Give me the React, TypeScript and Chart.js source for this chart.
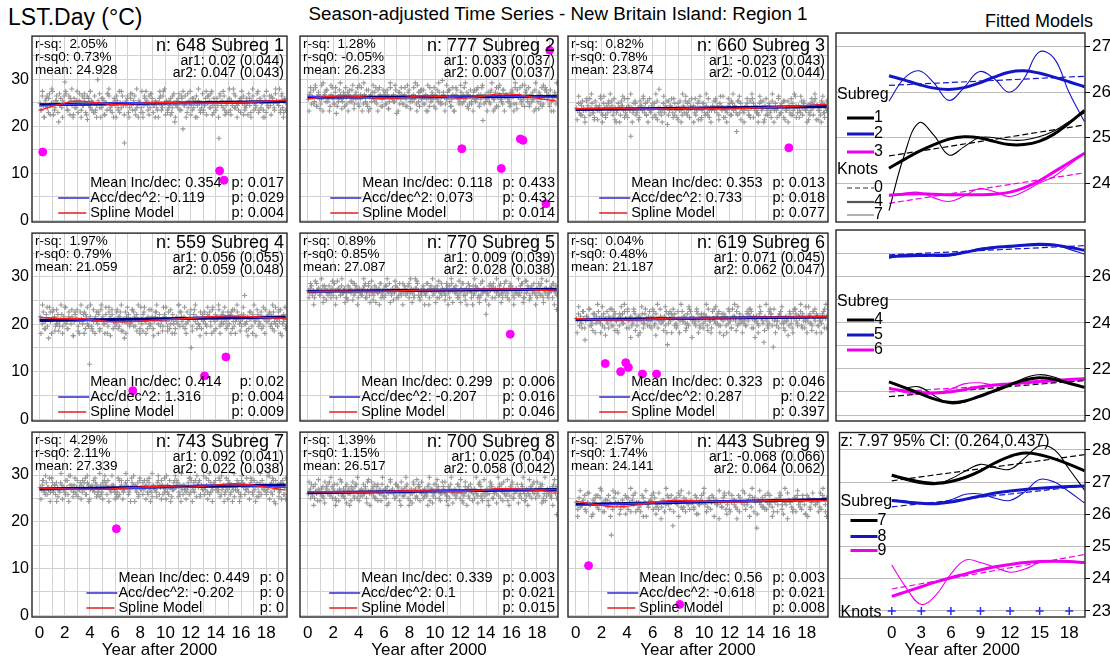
import React, { useEffect, useRef } from "react";
import { Chart, registerables } from "chart.js";

Chart.register(...registerables);

const FF = '"Liberation Sans", Arial, Helvetica, sans-serif';
const font = (size: number) => `${size}px ${FF}`;

/* ---------------- data ---------------- */
const SUBREG = ["1", "2", "3", "4", "5", "6", "7", "8", "9"];
const N_OBS = [648, 777, 660, 559, 770, 619, 743, 700, 443];
const MEANS = [24.928, 26.233, 23.874, 21.059, 27.087, 21.187, 27.339, 26.517, 24.141];
const R_SQ = ["2.05%", "1.28%", "0.82%", "1.97%", "0.89%", "0.04%", "4.29%", "1.39%", "2.57%"];
const R_SQ0 = ["0.73%", "-0.05%", "0.78%", "0.79%", "0.85%", "0.48%", "2.11%", "1.15%", "1.74%"];
const AR1 = ["0.02 (0.044)", "0.033 (0.037)", "-0.023 (0.043)", "0.056 (0.055)", "0.009 (0.039)", "0.071 (0.045)", "0.092 (0.041)", "0.025 (0.04)", "-0.068 (0.066)"];
const AR2 = ["0.047 (0.043)", "0.007 (0.037)", "-0.012 (0.044)", "0.059 (0.048)", "0.028 (0.038)", "0.062 (0.047)", "0.022 (0.038)", "0.058 (0.042)", "0.064 (0.062)"];
const MEAN_INC = ["0.354", "0.118", "0.353", "0.414", "0.299", "0.323", "0.449", "0.339", "0.56"];
const MEAN_INC_P = ["0.017", "0.433", "0.013", "0.02", "0.006", "0.046", "0", "0.003", "0.003"];
const ACC = ["-0.119", "0.073", "0.733", "1.316", "-0.207", "0.287", "-0.202", "0.1", "-0.618"];
const ACC_P = ["0.029", "0.432", "0.018", "0.004", "0.016", "0.22", "0", "0.021", "0.021"];
const SPLINE_P = ["0.004", "0.014", "0.077", "0.009", "0.046", "0.397", "0", "0.015", "0.008"];

// fitted curves, tabulated at these years
const FIT_YEARS = [0, 1.5, 3, 4.5, 6, 7.5, 9, 10.5, 12, 13.5, 15, 16.5, 18, 19.55];
const LIN_YEARS = [0, 19.55];

const K0_1 = [24.6, 25.28];
const K4_1 = [24.33, 24.52, 24.7, 24.85, 24.97, 25.02, 25.0, 24.92, 24.85, 24.85, 24.92, 25.08, 25.32, 25.6];
const K7_1 = [23.4, 24.6, 25.33, 25.05, 24.62, 24.8, 25.0, 25.0, 24.95, 24.95, 25.02, 25.15, 25.35, 25.55];
const K0_2 = [26.15, 26.35];
const K4_2 = [26.36, 26.27, 26.17, 26.09, 26.06, 26.1, 26.2, 26.33, 26.44, 26.47, 26.42, 26.33, 26.23, 26.12];
const K7_2 = [25.8, 26.3, 26.47, 26.2, 25.82, 26.1, 26.45, 26.3, 26.0, 26.3, 26.88, 26.75, 26.0, 25.35];
const K0_3 = [23.56, 24.23];
const K4_3 = [23.74, 23.76, 23.77, 23.76, 23.75, 23.75, 23.75, 23.76, 23.8, 23.9, 24.05, 24.25, 24.45, 24.66];
const K7_3 = [23.72, 23.78, 23.8, 23.68, 23.6, 23.72, 23.88, 23.82, 23.71, 23.82, 24.0, 24.15, 24.4, 24.66];
const K0_4 = [20.8, 21.5];
const K4_4 = [21.44, 21.2, 20.95, 20.7, 20.55, 20.6, 20.8, 21.05, 21.3, 21.52, 21.62, 21.55, 21.38, 21.2];
const K7_4 = [21.44, 21.2, 21.22, 20.85, 20.5, 20.55, 20.85, 21.0, 21.25, 21.6, 21.75, 21.65, 21.4, 21.2];
const K0_5 = [26.95, 27.35];
const K4_5 = [26.87, 26.9, 26.92, 26.93, 26.95, 27.05, 27.18, 27.27, 27.32, 27.37, 27.4, 27.38, 27.28, 27.15];
const K7_5 = [26.8, 26.95, 26.97, 26.9, 26.9, 27.05, 27.22, 27.3, 27.28, 27.38, 27.45, 27.4, 27.2, 26.98];
const K0_6 = [21.0, 21.5];
const K4_6 = [21.15, 21.05, 20.98, 20.95, 21.0, 21.1, 21.22, 21.3, 21.35, 21.4, 21.45, 21.5, 21.54, 21.57];
const K7_6 = [21.2, 20.98, 20.9, 20.95, 21.1, 21.35, 21.4, 21.3, 21.35, 21.45, 21.5, 21.5, 21.55, 21.58];
const K0_7 = [27.04, 27.85];
const K4_7 = [27.21, 27.1, 27.0, 26.96, 27.02, 27.15, 27.35, 27.6, 27.8, 27.9, 27.85, 27.72, 27.55, 27.35];
const K7_7 = [27.19, 27.05, 26.95, 26.93, 27.1, 27.35, 27.55, 27.45, 27.4, 27.75, 28.12, 28.0, 27.4, 26.75];
const K0_8 = [26.23, 26.88];
const K4_8 = [26.43, 26.38, 26.34, 26.33, 26.38, 26.47, 26.57, 26.66, 26.72, 26.77, 26.81, 26.84, 26.86, 26.88];
const K7_8 = [26.45, 26.4, 26.36, 26.35, 26.45, 26.62, 26.63, 26.5, 26.43, 26.7, 27.08, 27.0, 26.7, 26.35];
const K0_9 = [23.68, 24.75];
const K4_9 = [23.45, 23.6, 23.75, 23.9, 24.03, 24.15, 24.27, 24.37, 24.44, 24.5, 24.53, 24.54, 24.53, 24.5];
const K7_9 = [24.42, 23.7, 23.2, 23.5, 24.15, 24.58, 24.5, 24.35, 24.2, 24.3, 24.5, 24.55, 24.52, 24.5];

const K0 = [K0_1, K0_2, K0_3, K0_4, K0_5, K0_6, K0_7, K0_8, K0_9];
const K4 = [K4_1, K4_2, K4_3, K4_4, K4_5, K4_6, K4_7, K4_8, K4_9];
const K7 = [K7_1, K7_2, K7_3, K7_4, K7_5, K7_6, K7_7, K7_8, K7_9];

// observation anomalies around the subregion mean, coded in 0.5 degC steps ('n' = 0)
const CODE = "ABCDEFGHIJabcdefghijklmnopqrstuvwxyz";
const DEV_1 = "nkqmhopljr mnsikoqnfm plonwrmkqi omhpnlsjon kqmrnigpml onjqkmxnlh pmoinkrqlm jnpmhoksnl qmGnopjlrm knqilmonjs hmpnokqlrn jmonkhpqml snioklmpjq nfmolrnkpc mqnjlosmkp nhqmonjlrk mpinqolsmj nkpmIrnolq imnjpkomtl qnmkojpnim lpnrmjoqkn moskplnhqo jnlomqpnkr onmtkqljpn";
const DEV_1B = "kshmqpitnl ojrmhqsknp tilonrhmpj qmsknjhorl pinrtkmhoq ljsnimqhpr okthnljqsm irpmhlnskq tnjoilrhmp kqsmhrnipl ohtknjmsql riplnhqmsk jotimrlhnp sqkmiphtnl rjonkhsmqi pltnmjrhok";
const DEV_2 = "mopknqlrjn omkshnplqm njormkpgnl qomlnjrkpo lnqmiopnks mrnkolqjhn onpmlrkqno jmqnpkoilr nmolqgnpkm oknrmjpqln lomnkspjqm nqkomhnrlp mjonqlpknu onkmpqljmr hnoqmklpno rmnjokqlnp mlqnokmrdn onmplkqnhm pjnromlkqn nolmjpqnkr kqnomlsnjp omrknlpmqi nlpomjknrq mokqlnhpon";
const DEV_2B = "hrnksjpimt oqlhsnkrjm tiponhqlsk mrjohtnkqi lspmhrnjok qitnlsmhpr kojsnimrth lpqknhsjmo rimtlkphsn qjohrnmskl tpinkhqmrj osklhnptmi rjsmqhonlk phtinrkmsq ljomhtnikr sqpnjhmokt";
const DEV_3 = "nmplkoqnjm romknpliqn mnoslkpnjo lqnmokrnhm pnkqomjlnr ombnlpqkmn jonmrlpkqn mlopnkjqnv nkmplongqm onlrkmjpnq mkonqlpmjn rnolkmpqni mpnkolrjnm onmqlnkpom snjmlonkqp mondkqlpnm lnopmkqnrj nomlkpqmnh okmnpljqnm pmnrkolnjq mnqolkpmns jnomlqkpnm nolkmpnqri omnkqpljnm";
const DEV_3B = "ispkmhqnrt ljoimrhskn ptqmilnhos rkjnthmpli qosnkhrmjp tilmhsnqko rjpnimhtls kqonhrmisj pltkmhnqro isnjmhrpkt olqsimhnrk jtpmlhsnqi rkomthnjsl pqimhnrkto ljsnqmhipr ktoimhslnq";
const DEV_4 = "onlqjmpkns mhqnokrlim npkoslmjqn logmpnrkhq nmpqjolkEt kimnoqlpjr nolhsmkqon pjnmlrokqi mnfqolpknm rkoninmjsl pqmhnolkrn jmoqnlpkmi sonmkqjlnp mhnoltkqmn ojlqmnpbkn rmonlkqjpm nlkpoqmhsn mjonrklpqn omknlpqjmr hnqolmknpx lmojnqkpnm gnpmlqoknr mopnkljqms nkqmrolpnj";
const DEV_4B = "htmjsfqnri lpkthmsjon rgqnimtlhp skojrhmqit nlphsgrmkq jotimhsnlr qkpthnismj rlogqthnmk psinrhljmt qokshmnrip tjlgnmqhso kripnthmls jqohrkmtni psligqnhtm rkojshnmqp tilnrhgmsk";
const DEV_5 = "nmoplnkmqn olmnpkonml pnmolqnkro nlpmnokmjn omnqlmpnko mlnopkmnql nomlpinmoq kmnolpnmqn lonmpkolnm nqmolnpkmo mnlsoqnkml onmlqnhopn lmonpnkmqo nmlopmknqi ompnlkmonq nlomqpnkhl mpnolkqnmo ndmlpnokqn omnlpqmkon lnmoqpnlkm onlmpnqkmr mnolkpnqml onmpqlknmo lmnopkqnmf";
const DEV_5B = "kqmhrnolsi pjnmkrqhno lsmikpnrjq ohnmlsqkpi rjnomhqlkp snimjrokql hpnmqsikor ljnphmqkns oikrmlnjqh psnomkriql jhqnmpsoki lrnjmhqpok snlimqrkjp ohnmslqikr pjomnhkqls iorkmnqhpl";
const DEV_6 = "nmpkolqnjm onrkmlpnho mqnlokpjnm lonmrkqpmi nkomplqnjr mnoklqpnmg onmpjlrnko kmnoqlpnjm rlnmokqcpn mhonplkqnm nqmoljpkrn omnlkqpmjo nlpmokrnmj qnmlopkhnn mpoknlqmjr nomqklpnmo lnkpmroqnj mnolkpqnmd onmjlrpkbm nkmopqlnjm omnkpljqnr mlonqkpmjs nmoplkqnmh oknmlpqrnj";
const DEV_6B = "hsmjqeonrk ipltmhsngq jrkoimhpsl tnqjfmriko hslpnmqjrk gtnomishlq prkjnhtmoi lsqfnmrhkp jotimhnrsl qkpgnhrmjo tisnlhmkqp rjofmhsnli tkqpnrhmjo slimgqnhrp kotjnmhsli qrpkmhnjto";
const DEV_7 = "nmoqlkpnmr lnpmokhnml ponmlqnkso mnjolkqmnp olnmrkpoim nmqlpokmjo lpnsokqnml onmikljqno mlnpoqkmnr nohmlpkqmn pmnoqkrmlj onmlpqknio nlmsokqnjm mqnoplkhmo onlmpkrqnm lnjopqknms nmolqkpnmo omnlrqkmnh lnmqpkonmj nomlhkqpno mrnlopqknm ojnlpkqmno lmnsopkqmg nomlpiqknr";
const DEV_7B = "iqmsknhrlo pjmtinkqhs olrnjmiqpk shnomrjltk iqpnhmsolj rkqimtnlhp sonjrmkqil phtnmjsoqk rilnhmpsqj otkminrlhp qsnjomkrit lhpqnmjsok rinlhtmqpj sokmnirlqh pjtnomksil rhqnjmpoki";
const DEV_8 = "mnoqlpknmj onmlpkrnoq nlmpoqkjnm onrmlkpqno mjnolpqkmn lonqmpkrnm nmolqkpjno mqnlokpmnr nomkqlpnmh onlmpqknjo mrnolkqpnm nkomlpqjno lmnqopkmnr onmjlpkqnm nolmqpknmi mpnolkqnjm onmlqrpkmn lnojmpqknm nmolpkqnrm omjnlpqkmn nqolmkpnmj onmlpkqrno mnlopqkmjn omnlkpqnmd";
const DEV_8B = "rkmhqnsjol ipmrtknhqj slonimhprk qtjnlmoish rpknqmjtlo hisnmkqpjr lotnhmiqks pjrnlmhtoi qksnjmprlh otimkqnsjl rhpnomktiq ljsnmhrpko itqnjmlshp rkonimqtjl hspnmkroqi jtlnomhspk";
const DEV_9 = "nkplmoqjnr mhonqlkpsn jmoqnJkprm nimolqpknj omrnkljqpn hmnoqkplmr nlojmqpknd onmrqlkpjn mkonlqpimo nrmjlokqpn omgnlpqkmr jnomlkqpns mknoqlpjnc onmplqkrmn ljnompqkin mronlkpjqm nkomiqplnr omnjlkqpmh";
const DEV_9B = "hsnkrmipqt jolhsnrkmi ptqjnmhslo rikgntmqjp hslornkimq tjpnhmslri kqogjnrmht pislknqhoj rmtgnjpslq ihkomnrtjp";
const DEVS = [DEV_1, DEV_2, DEV_3, DEV_4, DEV_5, DEV_6, DEV_7, DEV_8, DEV_9];
const DEVS_B = [DEV_1B, DEV_2B, DEV_3B, DEV_4B, DEV_5B, DEV_6B, DEV_7B, DEV_8B, DEV_9B];
const OBS_START = 0.05;
const OBS_END = 19.55;

// highlighted (magenta) observations
const OUT_X_1 = [0.25, 14.3, 14.65];
const OUT_Y_1 = [14.5, 10.5, 8.5];
const OUT_X_2 = [12.1, 15.2, 16.7, 16.9, 18.7, 19.0];
const OUT_Y_2 = [15.2, 11.0, 17.3, 17.0, 3.5, 36.2];
const OUT_X_3 = [16.6];
const OUT_Y_3 = [15.4];
const OUT_X_4 = [7.4, 13.1, 14.8];
const OUT_Y_4 = [6.0, 9.1, 13.1];
const OUT_X_5 = [15.9];
const OUT_Y_5 = [17.9];
const OUT_X_6 = [2.3, 3.5, 3.9, 4.1, 5.2, 6.3];
const OUT_Y_6 = [11.7, 10.0, 11.9, 10.9, 9.5, 9.5];
const OUT_X_7 = [6.1];
const OUT_Y_7 = [18.5];
const OUT_X_8: number[] = [];
const OUT_Y_8: number[] = [];
const OUT_X_9 = [1.0, 8.1];
const OUT_Y_9 = [10.6, 2.3];
const OUT_X = [OUT_X_1, OUT_X_2, OUT_X_3, OUT_X_4, OUT_X_5, OUT_X_6, OUT_X_7, OUT_X_8, OUT_X_9];
const OUT_Y = [OUT_Y_1, OUT_Y_2, OUT_Y_3, OUT_Y_4, OUT_Y_5, OUT_Y_6, OUT_Y_7, OUT_Y_8, OUT_Y_9];

// axes
const X_GRID = [0, 1, 2, 3, 4, 5, 6, 7, 8, 9, 10, 11, 12, 13, 14, 15, 16, 17, 18, 19];
const X_LABELS = [0, 2, 4, 6, 8, 10, 12, 14, 16, 18];
const Y_GRID = [0, 5, 10, 15, 20, 25, 30, 35];
const Y_LABELS = [0, 10, 20, 30];

// fitted-model panels
const FIT_GROUPS = [[0, 1, 2], [3, 4, 5], [6, 7, 8]];
const FIT_Y_MIN = [23.15, 19.74, 22.81];
const FIT_Y_MAX = [27.3, 28.03, 28.54];
const FIT_Y_GRID = [[24, 25, 26, 27], [20, 21, 22, 23, 24, 25, 26, 27], [23, 24, 25, 26, 27, 28]];
const FIT_Y_LABELS = [[24, 25, 26, 27], [20, 22, 24, 26], [23, 24, 25, 26, 27, 28]];
const FIT_X_LABELS = [0, 3, 6, 9, 12, 15, 18];
const KNOT_YEARS = [0, 3, 6, 9, 12, 15, 18];
const KNOT_LEVEL = 23;
const KNOT_NAMES = ["0", "4", "7"];
const CI_TEXT = "z: 7.97 95% CI: (0.264,0.437)";

/* ---------------- layout / style ---------------- */
const SUB_COLORS = ["#000000", "#1515c8", "#ee00ee"];
const COL_L = [32, 300, 568];
const COL_R = [287, 558, 828];
const ROW_T = [33, 230, 429];
const ROW_B = [222, 421, 617];
const RIGHT_L = 836;
const RIGHT_R = 1085;
const X_MIN = -0.6;
const X_MAX = 19.65;
const Y_MIN = -0.4;
const Y_MAX = 39.2;
const FX_MIN = -5.3;
const FX_MAX = 19.6;

const decode = (s: string) =>
  s.replace(/\s+/g, "").split("").map((c) => (CODE.indexOf(c) - 23) * 0.5);

// evenly sampled observation times for a coded series (offset = fraction of a step)
const toObs = (s: string, mean: number, offset: number) => {
  const devs = decode(s);
  const n = devs.length;
  const step = (OBS_END - OBS_START) / (n - 1);
  return devs.map((d, k) => ({ x: Math.min(OBS_END, OBS_START + step * (k + offset)), y: mean + d }));
};

const boxPlugin = {
  id: "boxFrame",
  afterDraw(chart: any) {
    const { ctx, chartArea: a } = chart;
    ctx.save();
    ctx.strokeStyle = "#262626";
    ctx.lineWidth = 1.4;
    ctx.strokeRect(a.left, a.top, a.right - a.left, a.bottom - a.top);
    ctx.restore();
  },
};

function scatterAnnotations(i: number) {
  return {
    id: "ann" + i,
    afterDatasetsDraw(chart: any) {
      const { ctx, chartArea: a } = chart;
      ctx.save();
      ctx.fillStyle = "#000";
      ctx.textBaseline = "middle";
      ctx.textAlign = "left";
      ctx.font = font(13.5);
      ctx.fillText("r-sq:  " + R_SQ[i], a.left + 3, a.top + 8);
      ctx.fillText("r-sq0: " + R_SQ0[i], a.left + 3, a.top + 21);
      ctx.fillText("mean: " + MEANS[i].toFixed(3), a.left + 3, a.top + 34);
      ctx.textAlign = "right";
      ctx.font = font(18);
      ctx.fillText(`n: ${N_OBS[i]} Subreg ${SUBREG[i]}`, a.right - 3, a.top + 10);
      ctx.font = font(14);
      ctx.fillText("ar1: " + AR1[i], a.right - 3, a.top + 25);
      ctx.fillText("ar2: " + AR2[i], a.right - 3, a.top + 37);

      ctx.font = font(14.5);
      const rows = [`Mean Inc/dec: ${MEAN_INC[i]}`, `Acc/dec^2: ${ACC[i]}`, "Spline Model"];
      const ps = [`p: ${MEAN_INC_P[i]}`, `p: ${ACC_P[i]}`, `p: ${SPLINE_P[i]}`];
      const w = Math.max(...rows.map((t) => ctx.measureText(t).width));
      const pw = Math.max(...ps.map((t) => ctx.measureText(t).width));
      const xp = a.right - 3;
      const xt = xp - pw - 10 - w;
      const ys = [a.bottom - 39, a.bottom - 24, a.bottom - 9];
      rows.forEach((t, k) => {
        ctx.textAlign = "left";
        ctx.fillText(t, xt, ys[k]);
        ctx.textAlign = "right";
        ctx.fillText(ps[k], xp, ys[k]);
      });
      ctx.lineWidth = 1.5;
      ctx.strokeStyle = "#2a2ad0";
      ctx.beginPath();
      ctx.moveTo(xt - 32, ys[1]);
      ctx.lineTo(xt - 1, ys[1]);
      ctx.stroke();
      ctx.strokeStyle = "#e02020";
      ctx.beginPath();
      ctx.moveTo(xt - 32, ys[2]);
      ctx.lineTo(xt - 4, ys[2]);
      ctx.stroke();
      ctx.restore();
    },
  };
}

function scatterConfig(i: number, ML: number, MB: number) {
  const col = i % 3;
  const row = Math.floor(i / 3);
  const obs = [...toObs(DEVS[i], MEANS[i], 0), ...toObs(DEVS_B[i], MEANS[i], 0.5)];
  const line = (xs: number[], ys: number[]) => xs.map((x, k) => ({ x, y: ys[k] }));
  return {
    type: "scatter",
    data: {
      datasets: [
        {
          type: "scatter",
          data: obs,
          pointStyle: "cross",
          pointRadius: 2.5,
          borderColor: "#979797",
          borderWidth: 1.1,
          order: 5,
        },
        {
          type: "line",
          data: line(LIN_YEARS, K0[i]),
          borderColor: "#000080",
          borderWidth: 3,
          pointRadius: 0,
          order: 4,
        },
        {
          type: "line",
          data: line(FIT_YEARS, K4[i]),
          borderColor: "#3b3bff",
          borderWidth: 1.4,
          pointRadius: 0,
          tension: 0.4,
          order: 3,
        },
        {
          type: "line",
          data: line(FIT_YEARS, K7[i]),
          borderColor: "#ff1a1a",
          borderWidth: 1.3,
          pointRadius: 0,
          tension: 0.4,
          order: 2,
        },
        {
          type: "scatter",
          data: line(OUT_X[i], OUT_Y[i]),
          pointStyle: "circle",
          pointRadius: 4,
          backgroundColor: "#ff00ff",
          borderColor: "#ff00ff",
          order: 1,
        },
      ],
    },
    options: {
      responsive: false,
      animation: false,
      events: [],
      layout: { padding: { left: 0, top: 2, right: 10, bottom: 0 } },
      plugins: { legend: { display: false }, tooltip: { enabled: false } },
      scales: {
        x: {
          type: "linear",
          min: X_MIN,
          max: X_MAX,
          afterBuildTicks: (s: any) => {
            s.ticks = X_GRID.map((v) => ({ value: v }));
          },
          afterFit: (s: any) => {
            s.height = MB;
            s.paddingLeft = 0;
            s.paddingRight = 0;
          },
          grid: { color: "#d2d2d2", lineWidth: 1, drawTicks: false },
          border: { display: false },
          ticks: {
            display: row === 2,
            autoSkip: false,
            maxRotation: 0,
            padding: 6,
            color: "#000",
            font: { family: FF, size: 17 },
            callback: (v: number) => (X_LABELS.includes(v) ? String(v) : ""),
          },
          title: {
            display: row === 2,
            text: "Year after 2000",
            color: "#000",
            font: { family: FF, size: 17, lineHeight: 1 },
            padding: { top: 0, bottom: 0 },
          },
        },
        y: {
          type: "linear",
          min: Y_MIN,
          max: Y_MAX,
          afterBuildTicks: (s: any) => {
            s.ticks = Y_GRID.map((v) => ({ value: v }));
          },
          afterFit: (s: any) => {
            s.width = ML;
            s.paddingTop = 0;
            s.paddingBottom = 0;
          },
          grid: { color: "#d2d2d2", lineWidth: 1, drawTicks: false },
          border: { display: false },
          ticks: {
            display: col === 0,
            padding: 3,
            color: "#000",
            font: { family: FF, size: 16 },
            callback: (v: number) => (Y_LABELS.includes(v) ? String(v) : ""),
          },
        },
      },
    },
    plugins: [scatterAnnotations(i), boxPlugin],
  };
}

function fittedLegend(g: number) {
  return {
    id: "fleg" + g,
    afterDatasetsDraw(chart: any) {
      const { ctx, chartArea: a } = chart;
      const L = a.left;
      const T = a.top;
      ctx.save();
      ctx.fillStyle = "#000";
      ctx.textBaseline = "middle";
      ctx.textAlign = "left";
      ctx.font = font(16);
      const subY = [62, 72, 69][g];
      const rowY = [[85, 101, 119], [90, 105, 120], [88, 104, 118]][g];
      ctx.fillText("Subreg", L + 1, T + subY);
      FIT_GROUPS[g].forEach((s, j) => {
        const y = T + rowY[j];
        ctx.strokeStyle = SUB_COLORS[j];
        ctx.lineWidth = 3;
        ctx.beginPath();
        ctx.moveTo(L + 11, y);
        ctx.lineTo(L + 38, y);
        ctx.stroke();
        ctx.fillText(SUBREG[s], L + 38, y);
      });
      if (g === 0) {
        ctx.fillText("Knots", L + 1, T + 137);
        const ky = [155, 169, 182];
        const widths = [1.2, 2.2, 1];
        const colors = ["#333", "#555", "#666"];
        KNOT_NAMES.forEach((k, j) => {
          const y = T + ky[j];
          ctx.strokeStyle = colors[j];
          ctx.lineWidth = widths[j];
          ctx.setLineDash(j === 0 ? [5, 3] : []);
          ctx.beginPath();
          ctx.moveTo(L + 11, y);
          ctx.lineTo(L + 38, y);
          ctx.stroke();
          ctx.setLineDash([]);
          ctx.fillText(k, L + 38, y);
        });
      }
      if (g === 2) {
        ctx.fillText(CI_TEXT, L + 1, T + 9);
        ctx.fillText("Knots", L + 1, T + 180);
      }
      ctx.restore();
    },
  };
}

function fittedConfig(g: number, MB: number) {
  const datasets: any[] = [];
  FIT_GROUPS[g].forEach((s, j) => {
    const col = SUB_COLORS[j];
    datasets.push({
      type: "line",
      data: LIN_YEARS.map((x, k) => ({ x, y: K0[s][k] })),
      borderColor: col,
      borderWidth: 1.2,
      borderDash: [6, 3],
      pointRadius: 0,
      order: 3,
    });
    datasets.push({
      type: "line",
      data: FIT_YEARS.map((x, k) => ({ x, y: K7[s][k] })),
      borderColor: col,
      borderWidth: 1.1,
      pointRadius: 0,
      tension: 0.4,
      order: 2,
    });
    datasets.push({
      type: "line",
      data: FIT_YEARS.map((x, k) => ({ x, y: K4[s][k] })),
      borderColor: col,
      borderWidth: 3,
      pointRadius: 0,
      tension: 0.4,
      order: 1,
    });
  });
  if (g === 2) {
    datasets.push({
      type: "scatter",
      data: KNOT_YEARS.map((x) => ({ x, y: KNOT_LEVEL })),
      pointStyle: "cross",
      pointRadius: 4,
      borderColor: "#2a2aff",
      borderWidth: 1.5,
      order: 0,
    });
  }
  const labels = FIT_Y_LABELS[g];
  return {
    type: "scatter",
    data: { datasets },
    options: {
      responsive: false,
      animation: false,
      events: [],
      layout: { padding: { left: 2, top: 2, right: 0, bottom: 0 } },
      plugins: { legend: { display: false }, tooltip: { enabled: false } },
      scales: {
        x: {
          type: "linear",
          min: FX_MIN,
          max: FX_MAX,
          afterBuildTicks: (s: any) => {
            s.ticks = FIT_X_LABELS.map((v) => ({ value: v }));
          },
          afterFit: (s: any) => {
            s.height = MB;
            s.paddingLeft = 0;
            s.paddingRight = 0;
          },
          grid: { display: false, drawTicks: false },
          border: { display: false },
          ticks: {
            display: g === 2,
            autoSkip: false,
            maxRotation: 0,
            padding: 6,
            color: "#000",
            font: { family: FF, size: 17 },
          },
          title: {
            display: g === 2,
            text: "Year after 2000",
            color: "#000",
            font: { family: FF, size: 17, lineHeight: 1 },
            padding: { top: 0, bottom: 0 },
          },
        },
        y: {
          type: "linear",
          position: "right",
          min: FIT_Y_MIN[g],
          max: FIT_Y_MAX[g],
          afterBuildTicks: (s: any) => {
            s.ticks = FIT_Y_GRID[g].map((v) => ({ value: v }));
          },
          afterFit: (s: any) => {
            s.width = 25;
            s.paddingTop = 0;
            s.paddingBottom = 0;
          },
          grid: {
            color: "#bdbdbd",
            lineWidth: 1,
            drawTicks: true,
            tickLength: 5,
            tickColor: (c: any) =>
              c.tick && labels.includes(c.tick.value) ? "#000" : "rgba(0,0,0,0)",
          },
          border: { display: false },
          ticks: {
            padding: 2,
            color: "#000",
            font: { family: FF, size: 17 },
            callback: (v: number) => (labels.includes(v) ? String(v) : ""),
          },
        },
      },
    },
    plugins: [fittedLegend(g), boxPlugin],
  };
}

function ChartCanvas(props: { x: number; y: number; w: number; h: number; build: () => any }) {
  const ref = useRef<HTMLCanvasElement | null>(null);
  useEffect(() => {
    const chart = new Chart(ref.current as HTMLCanvasElement, props.build());
    return () => chart.destroy();
  }, []);
  return (
    <canvas
      ref={ref}
      width={props.w}
      height={props.h}
      style={{ position: "absolute", left: props.x, top: props.y, width: props.w, height: props.h, display: "block" }}
    />
  );
}

export default function App() {
  const panels: any[] = [];
  for (let i = 0; i < 9; i++) {
    const col = i % 3;
    const row = Math.floor(i / 3);
    const ML = col === 0 ? COL_L[0] : 10;
    const MB = row === 2 ? 659 - ROW_B[2] : 8;
    const x = COL_L[col] - ML;
    const y = ROW_T[row] - 2;
    const w = COL_R[col] - COL_L[col] + ML + 10;
    const h = ROW_B[row] - ROW_T[row] + 2 + MB;
    panels.push(<ChartCanvas key={"s" + i} x={x} y={y} w={w} h={h} build={() => scatterConfig(i, ML, MB)} />);
  }
  for (let g = 0; g < 3; g++) {
    const MB = g === 2 ? 659 - ROW_B[2] : 8;
    const x = RIGHT_L - 2;
    const y = ROW_T[g] - 2;
    const w = RIGHT_R - RIGHT_L + 2 + 25;
    const h = ROW_B[g] - ROW_T[g] + 2 + MB;
    panels.push(<ChartCanvas key={"f" + g} x={x} y={y} w={w} h={h} build={() => fittedConfig(g, MB)} />);
  }
  return (
    <div
      style={{
        position: "absolute",
        left: 0,
        top: 0,
        width: 1110,
        height: 659,
        overflow: "hidden",
        background: "#fff",
        fontFamily: FF,
        color: "#000",
      }}
    >
      <div style={{ position: "absolute", left: 8, top: 3, fontSize: 23, lineHeight: "28px", whiteSpace: "nowrap" }}>
        LST.Day (°C)
      </div>
      <div
        style={{
          position: "absolute",
          left: 258,
          width: 600,
          top: 2,
          fontSize: 18.8,
          lineHeight: "24px",
          textAlign: "center",
          whiteSpace: "nowrap",
        }}
      >
        Season-adjusted Time Series - New Britain Island: Region 1
      </div>
      <div
        style={{
          position: "absolute",
          left: 900,
          width: 193,
          top: 9,
          fontSize: 18,
          lineHeight: "24px",
          textAlign: "right",
          whiteSpace: "nowrap",
        }}
      >
        Fitted Models
      </div>
      {panels}
    </div>
  );
}
